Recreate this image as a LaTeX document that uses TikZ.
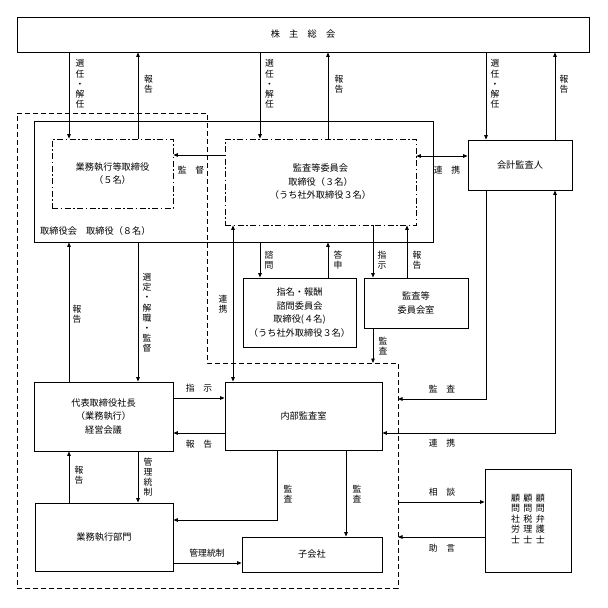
\documentclass[tikz,border=0pt]{standalone}
\usepackage{fontspec}
\setmainfont{Noto Sans CJK JP}
\usetikzlibrary{arrows.meta}
\begin{document}
\begin{tikzpicture}[x=1pt,y=-1pt,
  box/.style={draw,line width=0.9pt,align=center,inner sep=0pt,font=\fontsize{9.2}{13.5}\selectfont},
  dbox/.style={box,line width=0.8pt,dash pattern=on 6pt off 2.5pt on 1.5pt off 2.5pt},
  outer/.style={line width=0.8pt,dash pattern=on 5pt off 3pt},
  lab/.style={inner sep=0pt,align=center,font=\fontsize{8.8}{10.2}\selectfont},
  arr/.style={line width=0.8pt,-{Triangle[length=4.5pt,width=3.6pt]}},
  darr/.style={line width=0.8pt,{Triangle[length=4.5pt,width=3.6pt]}-{Triangle[length=4.5pt,width=3.6pt]}}]
\useasboundingbox (0,0) rectangle (608,608);
% columns and rows
\coordinate (cA) at (69,0);
\coordinate (cB) at (138,0);
\coordinate (cC) at (233,0);
\coordinate (cD) at (260,0);
\coordinate (cE) at (328,0);
\coordinate (cF) at (373,0);
\coordinate (cG) at (407,0);
\coordinate (cH) at (486,0);
\coordinate (cI) at (555,0);
\coordinate (cJ) at (277,0);
\coordinate (cK) at (346,0);
\coordinate (r1) at (0,155);
\coordinate (r1b) at (0,156);
\coordinate (r2) at (0,398);
\coordinate (r3) at (0,433);
\coordinate (r4) at (0,520);
\coordinate (r5) at (0,563);
% outer dashed boundary
\draw[outer] (17,113) -- (207,113) -- (207,363) -- (398,363) -- (398,588) -- (17,588) -- cycle;
\coordinate (bK) at (373,363);
\coordinate (bA) at (398,399);
\coordinate (bB) at (398,502);
\coordinate (bC) at (398,537);
% boxes
\node[box,minimum width=572pt,minimum height=35pt] (kabu) at (303,34.5) {株　主　総　会};
\node[box,minimum width=399pt,minimum height=121pt] (tori) at (233.5,181.5) {};
\node[anchor=west,inner sep=0pt,font=\fontsize{9.2}{12}\selectfont] (toril) at (40,231) {取締役会　取締役（８名）};
\node[dbox,minimum width=121pt,minimum height=69pt] (gyomu) at (112.5,173.5) {業務執行等取締役\\（５名）};
\node[dbox,minimum width=191pt,minimum height=86pt] (kansa) at (320.5,182) {監査等委員会\\取締役（３名）\\（うち社外取締役３名）};
\node[box,minimum width=104pt,minimum height=50pt] (kaikei) at (520,165) {会計監査人};
\node[box,minimum width=113pt,minimum height=69pt] (shimei) at (299.5,312.5) {指名・報酬\\諮問委員会\\取締役(４名)\\（うち社外取締役３名）};
\node[box,minimum width=104pt,minimum height=50pt] (kshitsu) at (416,303) {監査等\\委員会室};
\node[box,minimum width=139pt,minimum height=69pt] (daihyo) at (103.5,416.5) {代表取締役社長\\（業務執行）\\経営会議};
\node[box,minimum width=157pt,minimum height=68pt] (naibu) at (303.5,416) {内部監査室};
\node[box,minimum width=138pt,minimum height=68pt] (bumon) at (104,537) {業務執行部門};
\node[box,minimum width=140pt,minimum height=35pt] (kogai) at (312,554.5) {子会社};
\node[box,minimum width=86pt,minimum height=103pt,font=\fontsize{9}{10}\selectfont] (komon) at (528,520.5)
  {\renewcommand{\arraystretch}{1}\begin{tabular}{@{}c@{\hspace{3.5pt}}c@{\hspace{3.5pt}}c@{}}
   顧&顧&顧\\問&問&問\\社&税&弁\\労&理&護\\士&士&士\end{tabular}};
% connectors
\draw[arr] (kabu.south -| cA) -- (gyomu.north -| cA);
\draw[arr] (gyomu.north -| cB) -- (kabu.south -| cB);
\draw[arr] (kabu.south -| cD) -- (kansa.north -| cD);
\draw[arr] (kansa.north -| cE) -- (kabu.south -| cE);
\draw[arr] (kabu.south -| cH) -- (kaikei.north -| cH);
\draw[arr] (kaikei.north -| cI) -- (kabu.south -| cI);
\draw[arr] (kansa.west |- r1) -- (gyomu.east |- r1);
\draw[darr] (kansa.east |- r1b) -- (kaikei.west |- r1b);
\draw[arr] (tori.south -| cD) -- (shimei.north -| cD);
\draw[arr] (shimei.north -| cE) -- (tori.south -| cE);
\draw[arr] (kansa.south -| cF) -- (kshitsu.north -| cF);
\draw[arr] (kshitsu.north -| cG) -- (kansa.south -| cG);
\draw[arr] (kshitsu.south -| cF) -- (bK);
\draw[darr] (naibu.north -| cC) -- (kansa.south -| cC);
\draw[arr] (daihyo.north -| cA) -- (tori.south -| cA);
\draw[arr] (tori.south -| cB) -- (daihyo.north -| cB);
\draw[arr] (daihyo.east |- r2) -- (naibu.west |- r2);
\draw[arr] (naibu.west |- r3) -- (daihyo.east |- r3);
\draw[arr] (bumon.north -| cA) -- (daihyo.south -| cA);
\draw[arr] (daihyo.south -| cB) -- (bumon.north -| cB);
\draw[arr] (naibu.south -| cJ) |- (bumon.east |- r4);
\draw[arr] (naibu.south -| cK) -- (kogai.north -| cK);
\draw[arr] (bumon.east |- r5) -- (kogai.west |- r5);
\draw[arr] (kaikei.south -| cH) |- (bA);
\draw[darr] (kaikei.south -| cI) |- (naibu.east |- r3);
\draw[arr] (bB) -- (komon.west |- bB);
\draw[arr] (komon.west |- bC) -- (bC);
% labels
\node[lab] (l1) at (80,84) {選\\任\\・\\解\\任};
\node[lab] (l2) at (148.5,84) {報\\告};
\node[lab] (l3) at (269.5,84) {選\\任\\・\\解\\任};
\node[lab] (l4) at (339,84) {報\\告};
\node[lab] (l5) at (495,84) {選\\任\\・\\解\\任};
\node[lab] (l6) at (564,84) {報\\告};
\node[lab] (l7) at (191,170) {監　督};
\node[lab] (l8) at (447,170) {連　携};
\node[lab] (l9) at (269,260) {諮\\問};
\node[lab] (l10) at (338,260) {答\\申};
\node[lab] (l11) at (382,260) {指\\示};
\node[lab] (l12) at (417,260) {報\\告};
\node[lab] (l13) at (383,346) {監\\査};
\node[lab] (l14) at (223,304) {連\\携};
\node[lab] (l15) at (77,314) {報\\告};
\node[lab] (l16) at (147,313) {選\\定\\・\\解\\職\\・\\監\\督};
\node[lab] (l17) at (199,388) {指　示};
\node[lab] (l18) at (199,444) {報　告};
\node[lab] (l19) at (79,475) {報\\告};
\node[lab] (l20) at (148,477) {管\\理\\統\\制};
\node[lab] (l21) at (288,494) {監\\査};
\node[lab] (l22) at (357,494) {監\\査};
\node[lab] (l23) at (207,553) {管理統制};
\node[lab] (l24) at (442,389) {監　査};
\node[lab] (l25) at (442,443) {連　携};
\node[lab] (l26) at (442,492) {相　談};
\node[lab] (l27) at (442,548) {助　言};
\end{tikzpicture}
\end{document}
